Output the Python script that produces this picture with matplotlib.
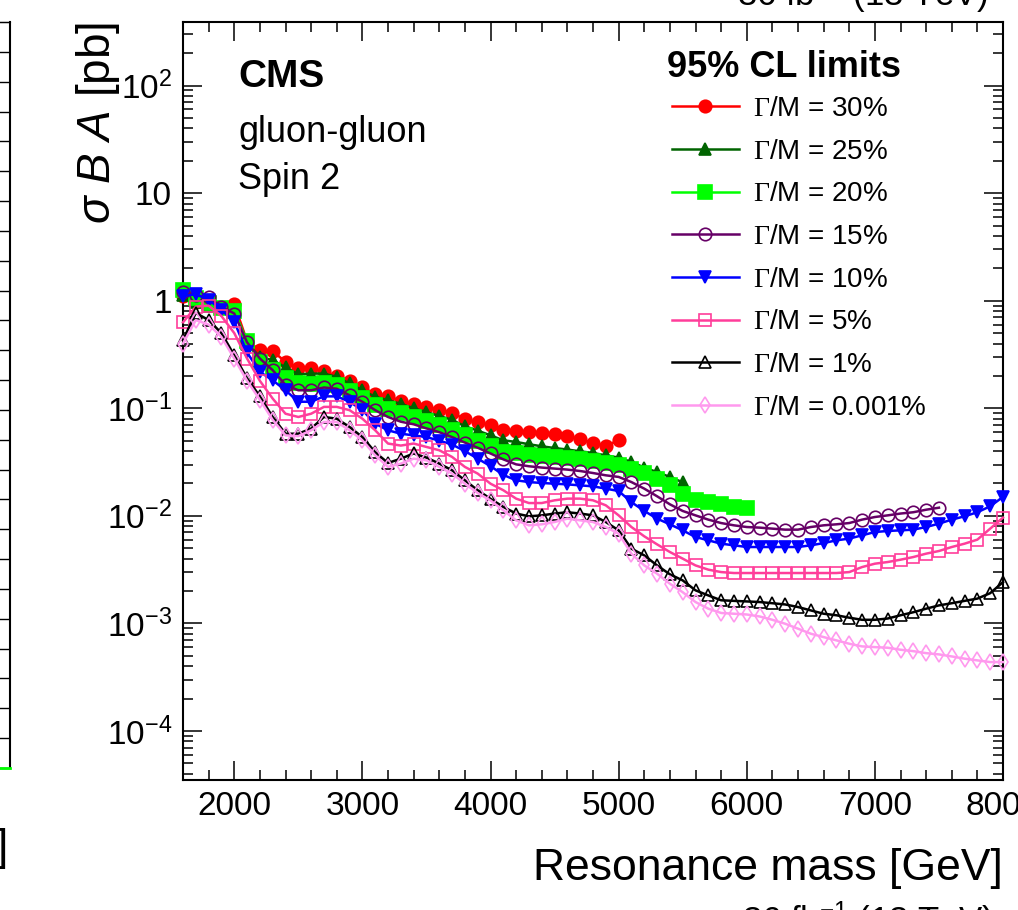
import numpy as np
import matplotlib
matplotlib.use("Agg")
import matplotlib.pyplot as plt
from matplotlib.ticker import MultipleLocator, LogLocator, NullFormatter, FuncFormatter

plt.rcParams['font.family'] = ['Liberation Sans', 'DejaVu Sans']
plt.rcParams['mathtext.fontset'] = 'custom'
plt.rcParams['mathtext.rm'] = 'Liberation Sans'
plt.rcParams['mathtext.it'] = 'Liberation Sans:italic'
plt.rcParams['mathtext.bf'] = 'Liberation Sans:bold'
plt.rcParams['mathtext.sf'] = 'Liberation Serif'

# resonance mass grid [GeV], every series starts at 1600
mass = np.arange(1600, 8001, 100)

# 95% CL limits on sigma*B*A [pb]
lim_30 = [1.10, 0.98, 0.92, 0.86, 0.93, 0.42, 0.35, 0.34, 0.27, 0.235,
          0.235, 0.22, 0.20, 0.18, 0.156, 0.137, 0.130, 0.117, 0.110, 0.103,
          0.097, 0.091, 0.079, 0.074, 0.070, 0.0624, 0.0617, 0.0602, 0.0594, 0.0573,
          0.0553, 0.0515, 0.0476, 0.0446, 0.0504]
lim_25 = [1.12, 0.97, 0.90, 0.85, 0.82, 0.40, 0.30, 0.28, 0.24, 0.207,
          0.21, 0.21, 0.196, 0.17, 0.147, 0.128, 0.119, 0.110, 0.100, 0.092,
          0.085, 0.078, 0.068, 0.062, 0.056, 0.0504, 0.0486, 0.0463, 0.0443, 0.0427,
          0.0413, 0.0398, 0.0384, 0.0365, 0.0348, 0.0317, 0.0281, 0.0255, 0.0230, 0.0205]
lim_20 = [1.25, 1.05, 0.95, 0.86, 0.80, 0.42, 0.27, 0.225, 0.19, 0.17,
          0.168, 0.17, 0.163, 0.145, 0.125, 0.108, 0.098, 0.090, 0.083, 0.076,
          0.070, 0.063, 0.056, 0.050, 0.045, 0.0395, 0.038, 0.0368, 0.0358, 0.035,
          0.0342, 0.0334, 0.0322, 0.031, 0.0295, 0.0275, 0.0248, 0.0222, 0.0193, 0.0161,
          0.0141, 0.0134, 0.0128, 0.0122, 0.0117]
lim_15 = [1.20, 1.12, 1.08, 0.88, 0.76, 0.41, 0.29, 0.226, 0.165, 0.147,
          0.147, 0.156, 0.152, 0.132, 0.115, 0.096, 0.083, 0.075, 0.071, 0.065,
          0.060, 0.054, 0.048, 0.043, 0.038, 0.0335, 0.0301, 0.0289, 0.0281, 0.0275,
          0.0269, 0.0261, 0.0250, 0.0238, 0.0230, 0.0206, 0.0179, 0.0152, 0.0128, 0.0111,
          0.0101, 0.00922, 0.00857, 0.00816, 0.00787, 0.00777, 0.00760, 0.00744, 0.00744, 0.00787,
          0.00816, 0.00834, 0.00857, 0.00922, 0.00975, 0.0101, 0.0105, 0.0108, 0.0114, 0.0119]
lim_10 = [1.10, 1.15, 1.02, 0.82, 0.64, 0.33, 0.218, 0.182, 0.147, 0.115,
          0.115, 0.129, 0.129, 0.115, 0.096, 0.072, 0.0624, 0.058, 0.056, 0.054,
          0.050, 0.046, 0.040, 0.034, 0.029, 0.0240, 0.0214, 0.0206, 0.0202, 0.0199,
          0.0196, 0.0192, 0.0188, 0.0179, 0.0170, 0.0134, 0.0111, 0.00942, 0.00834, 0.00733,
          0.00635, 0.00592, 0.00551, 0.00532, 0.00513, 0.00513, 0.00513, 0.00513, 0.00513, 0.00532,
          0.00558, 0.00592, 0.00614, 0.00659, 0.00707, 0.00723, 0.00733, 0.00744, 0.00787, 0.00846,
          0.00922, 0.00990, 0.0108, 0.01226, 0.0150]
lim_5 = [0.63, 0.88, 0.90, 0.72, 0.50, 0.29, 0.18, 0.123, 0.089, 0.083,
         0.089, 0.103, 0.103, 0.096, 0.080, 0.0624, 0.047, 0.045, 0.047, 0.0437,
         0.0407, 0.0353, 0.0285, 0.0247, 0.0199, 0.0173, 0.01445, 0.01315, 0.01315, 0.01394,
         0.01445, 0.01445, 0.01394, 0.01252, 0.0101, 0.00787, 0.00645, 0.00543, 0.00461, 0.00400,
         0.00346, 0.00316, 0.00300, 0.00294, 0.00294, 0.00294, 0.00294, 0.00294, 0.00294, 0.00294,
         0.00294, 0.00294, 0.00300, 0.00334, 0.00359, 0.00372, 0.00391, 0.00414, 0.00445, 0.00471,
         0.00513, 0.00551, 0.00601, 0.00760, 0.00962]
lim_1 = [0.43, 0.77, 0.66, 0.50, 0.31, 0.19, 0.129, 0.083, 0.058, 0.058,
         0.0647, 0.083, 0.080, 0.067, 0.054, 0.039, 0.031, 0.034, 0.038, 0.0348,
         0.0306, 0.0265, 0.0214, 0.0173, 0.0144, 0.0121, 0.0105, 0.0099, 0.0101, 0.0105,
         0.0108, 0.0105, 0.0101, 0.00876, 0.00733, 0.00495, 0.00429, 0.00346, 0.00286, 0.00251,
         0.00203, 0.00182, 0.00164, 0.00162, 0.00160, 0.00158, 0.00154, 0.00150, 0.00142, 0.00132,
         0.00123, 0.00119, 0.00113, 0.00108, 0.00108, 0.00111, 0.00119, 0.00127, 0.00137, 0.00147,
         0.00154, 0.00162, 0.00170, 0.00191, 0.00242]
lim_0001 = [0.40, 0.66, 0.60, 0.46, 0.29, 0.18, 0.120, 0.078, 0.056, 0.055,
            0.0624, 0.0746, 0.0746, 0.0624, 0.0504, 0.0366, 0.0285, 0.0306, 0.034, 0.0328,
            0.0285, 0.0247, 0.0199, 0.0163, 0.0139, 0.01125, 0.00908, 0.00816, 0.00834, 0.00876,
            0.00942, 0.00908, 0.00876, 0.00787, 0.00683, 0.00445, 0.00346, 0.00290, 0.00234, 0.00195,
            0.00158, 0.00137, 0.00125, 0.00123, 0.00121, 0.00116, 0.00108, 0.000993, 0.000893, 0.000802,
            0.000746, 0.000695, 0.000647, 0.000611, 0.000602, 0.000594, 0.000569, 0.000552, 0.000529, 0.000515,
            0.000493, 0.000470, 0.000453, 0.000437, 0.000437]

widths = ["30%", "25%", "20%", "15%", "10%", "5%", "1%", "0.001%"]
limits = [lim_30, lim_25, lim_20, lim_15, lim_10, lim_5, lim_1, lim_0001]

# style per series: color, marker, size, filled
styles = [
    ("#ff0000", "o", 9.0, True),
    ("#006400", "^", 8.0, True),
    ("#00ff00", "s", 9.5, True),
    ("#660066", "o", 9.0, False),
    ("#0000ff", "v", 9.0, True),
    ("#ff3d9a", "s", 8.5, False),
    ("#000000", "^", 9.0, False),
    ("#ff99ee", "d", 8.5, False),
]

W, H = 1018, 910

fig = plt.figure(figsize=(W / 100, H / 100), dpi=100)
ax = fig.add_axes([183 / W, 1 - 780 / H, 820 / W, 758 / H])
ax.set_yscale('log')
ax.set_xlim(1600, 8000)
ax.set_ylim(3.5e-5, 390)

handles = []
for i, (vals, (col, mk, ms, filled)) in enumerate(zip(limits, styles)):
    line, = ax.plot(mass[:len(vals)], vals, color=col, lw=1.8, marker=mk, ms=ms,
                    mfc=col if filled else 'none', mec=col, mew=1.2,
                    zorder=3 + i, clip_on=False)
    handles.append(line)

labels = [r"$\mathsf{\Gamma}$/M = " + w for w in widths]
ax.legend(handles, labels, loc='upper left', bbox_to_anchor=(672 / W, 1 - 96 / H),
          bbox_transform=fig.transFigure, frameon=False, fontsize=20,
          handlelength=2.4, handletextpad=0.5, labelspacing=0.6,
          borderpad=0, borderaxespad=0, numpoints=1)

# axes and ticks, ROOT style
for s in ax.spines.values():
    s.set_linewidth(1.5)
ax.xaxis.set_major_locator(MultipleLocator(1000))
ax.xaxis.set_minor_locator(MultipleLocator(200))
ax.yaxis.set_major_locator(LogLocator(base=10, numticks=20))
ax.yaxis.set_minor_locator(LogLocator(base=10, subs=np.arange(2, 10), numticks=20))
ax.yaxis.set_minor_formatter(NullFormatter())


def dec_label(v, pos):
    e = int(round(np.log10(v)))
    if e == 0:
        return "1"
    if e == 1:
        return "10"
    return r"$10^{%d}$" % e


ax.yaxis.set_major_formatter(FuncFormatter(dec_label))
ax.tick_params(which='both', direction='in', top=True, right=True, width=1.1, labelsize=24)
ax.tick_params(which='major', length=14)
ax.tick_params(which='minor', length=7)
ax.tick_params(axis='x', pad=8)
ax.tick_params(axis='y', pad=8)

# labels and texts
fig.text(1003 / W, 1 - 880 / H, "Resonance mass [GeV]", ha='right', va='baseline', fontsize=32)
fig.text(110 / W, 1 - 22 / H, r"$\sigma$ $\mathit{B}$ $\mathit{A}$ [pb]", rotation=90,
         rotation_mode='anchor', ha='right', va='baseline', fontsize=33)
fig.text(238 / W, 1 - 87 / H, "CMS", fontsize=28, fontweight='bold', va='baseline')
fig.text(238 / W, 1 - 142 / H, "gluon-gluon", fontsize=26, va='baseline')
fig.text(238 / W, 1 - 189 / H, "Spin 2", fontsize=26, va='baseline')
fig.text(667 / W, 1 - 77 / H, "95% CL limits", fontsize=26, fontweight='bold', va='baseline')

# pieces of the neighbouring panels cut by the crop
fig.text(988 / W, 1 - 6 / H, r"36 fb$^{-1}$ (13 TeV)", ha='right', va='baseline', fontsize=25)
fig.text(993 / W, 1 - 932 / H, r"36 fb$^{-1}$ (13 TeV)", ha='right', va='baseline', fontsize=25)
fig.text(8 / W, 1 - 860 / H, "]", ha='right', va='baseline', fontsize=32)

axl = fig.add_axes([-200 / W, 1 - 768 / H, 209.5 / W, 746 / H])
axl.set_xlim(0, 1)
axl.set_ylim(0, 25)
axl.set_xticks([])
axl.set_yticks(range(26))
axl.yaxis.tick_right()
axl.tick_params(axis='y', direction='in', length=14, width=1, labelright=False)
axl.spines['bottom'].set_color('#00ff00')
axl.spines['bottom'].set_linewidth(2)
axl.spines['right'].set_linewidth(1.5)

fig.savefig("out.png", dpi=100)
